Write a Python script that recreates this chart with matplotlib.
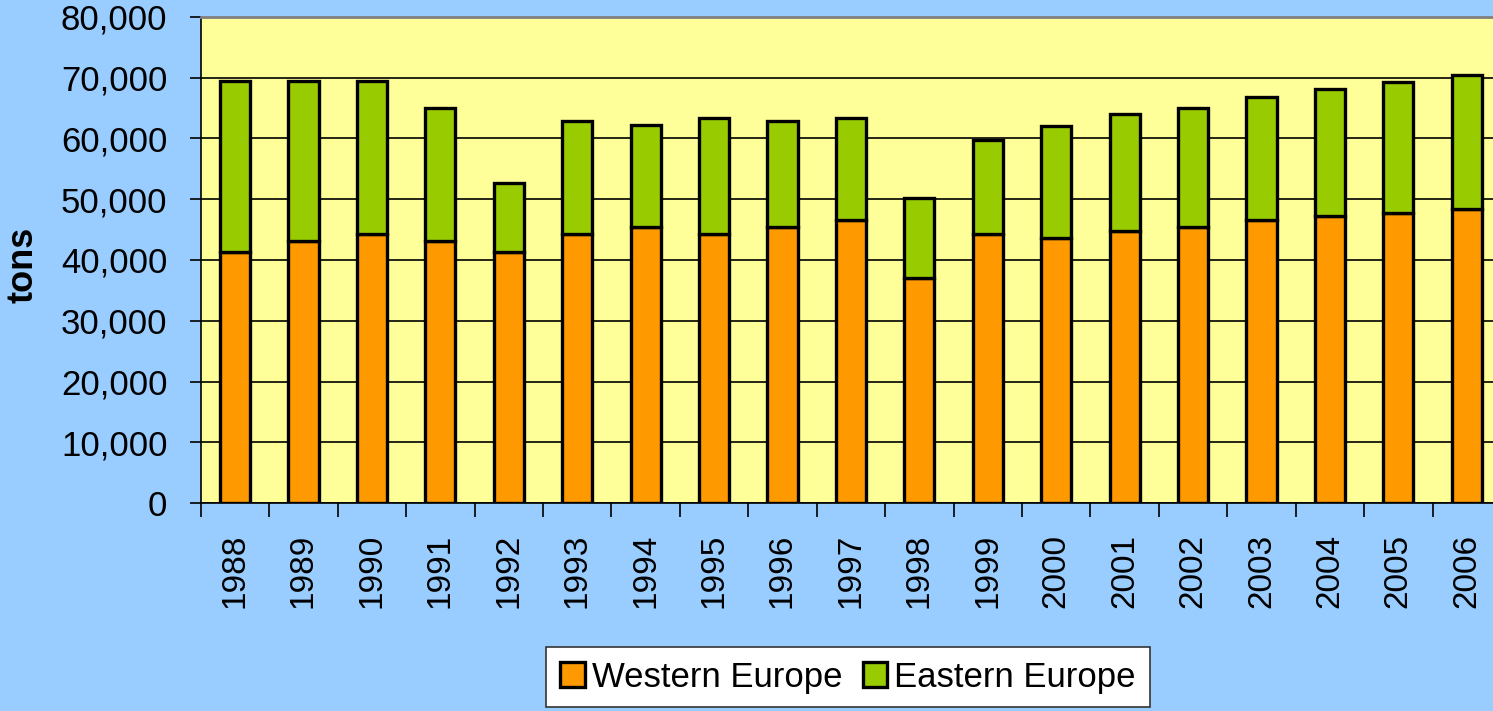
import numpy as np
import matplotlib
matplotlib.use("Agg")
import matplotlib.pyplot as plt
from matplotlib.ticker import FuncFormatter

plt.rcParams['font.family'] = ['Liberation Sans', 'DejaVu Sans']

years = ["1988", "1989", "1990", "1991", "1992", "1993", "1994", "1995", "1996", "1997",
         "1998", "1999", "2000", "2001", "2002", "2003", "2004", "2005", "2006"]
western = [41300, 43100, 44300, 43100, 41300, 44300, 45400, 44300, 45400, 46600,
           37000, 44300, 43600, 44800, 45400, 46600, 47200, 47700, 48400]
total = [69400, 69400, 69400, 65100, 52600, 62800, 62200, 63400, 62800, 63400,
         50200, 59700, 62100, 64000, 65100, 66900, 68200, 69300, 70500]
eastern = [t - w for t, w in zip(total, western)]

bg = "#99CCFF"
fig = plt.figure(figsize=(14.93, 7.11), dpi=100, facecolor=bg)
W, H = 1493, 711
left, right, top, bottom = 200.8, 1501.0, 17, 503
ax = fig.add_axes([left / W, 1 - bottom / H, (right - left) / W, (bottom - top) / H])
ax.set_facecolor("#FFFF99")

x = np.arange(len(years))
ax.bar(x, western, width=0.44, color="#FF9900", edgecolor="black", linewidth=2.4,
       label="Western Europe", zorder=3)
ax.bar(x, eastern, width=0.44, bottom=western, color="#99CC00", edgecolor="black",
       linewidth=2.4, label="Eastern Europe", zorder=3)

ax.set_xlim(-0.5, len(years) - 0.5)
ax.set_ylim(0, 80000)
ax.set_yticks(np.arange(0, 80001, 10000))
ax.yaxis.set_major_formatter(FuncFormatter(lambda v, p: f"{int(v):,}"))
ax.yaxis.grid(True, color="black", linewidth=1.2, zorder=1)
ax.set_axisbelow(True)

ax.set_xticks(x)
ax.set_xticklabels(years, rotation=90)
ax.set_xticks(np.arange(-0.5, len(years)), minor=True)
ax.tick_params(axis="x", which="major", length=0, pad=22, labelsize=24)
ax.tick_params(axis="x", which="minor", length=10, width=1.2, direction="out")
ax.tick_params(axis="y", length=8, width=1.2, direction="out", labelsize=25, pad=16)

for s in ["top", "right"]:
    ax.spines[s].set_color("#808080")
    ax.spines[s].set_linewidth(2)
ax.spines["left"].set_color("black")
ax.spines["bottom"].set_color("black")
ax.spines["left"].set_linewidth(1.2)
ax.spines["bottom"].set_linewidth(1.2)

fig.text(23 / W, 1 - 265 / H, "tons", rotation=90, fontsize=26, fontweight="bold",
         ha="center", va="center")

leg = fig.legend(loc="center", bbox_to_anchor=(848 / W, 1 - 677 / H), ncol=2,
                 fontsize=25, frameon=True, fancybox=False, handlelength=0.7,
                 handleheight=0.7, handletextpad=0.2, columnspacing=0.6,
                 borderpad=0.4, borderaxespad=0, framealpha=1)
leg.get_frame().set_edgecolor("#333333")
leg.get_frame().set_linewidth(1.2)
leg.get_frame().set_facecolor("white")
for h in leg.legend_handles:
    h.set_linewidth(2.4)

fig.savefig("out.png", dpi=100, facecolor=bg)
